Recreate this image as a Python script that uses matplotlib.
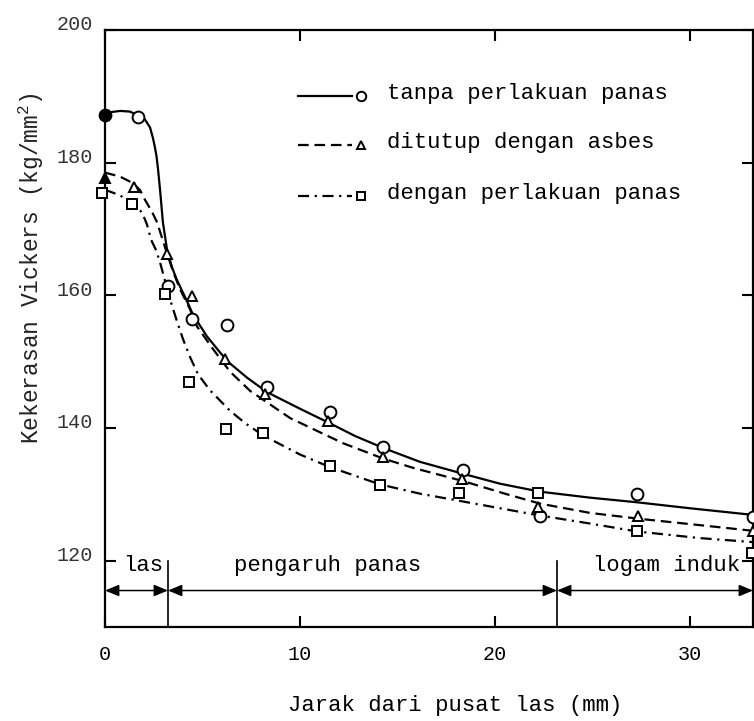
import matplotlib.pyplot as plt
import matplotlib as mpl
from matplotlib.transforms import ScaledTranslation

mpl.rcParams['font.family'] = ['Liberation Mono', 'DejaVu Sans Mono']
mpl.rcParams['mathtext.fontset'] = 'custom'
mpl.rcParams['mathtext.rm'] = 'Liberation Mono'
mpl.rcParams['mathtext.it'] = 'Liberation Mono'

# titik pengukuran: jarak dari pusat las (mm) dan kekerasan Vickers
jarak_tanpa = [0, 1.69, 3.23, 4.46, 6.26, 8.31, 11.54, 14.26, 18.36, 22.31, 27.28, 33.23]
hv_tanpa = [187.2, 186.9, 161.4, 156.4, 155.6, 146.2, 142.4, 137.1, 133.7, 126.8, 130.1, 126.6]

jarak_asbes = [0, 1.49, 3.18, 4.46, 6.15, 8.21, 11.44, 14.26, 18.31, 22.21, 27.33, 33.23]
hv_asbes = [177.7, 176.4, 166.2, 159.9, 150.4, 145.1, 141.1, 135.6, 132.3, 128.1, 126.8, 124.5]

jarak_panas = [-0.15, 1.38, 3.08, 4.31, 6.21, 8.10, 11.54, 14.10, 18.15, 22.21, 27.28, 33.18]
hv_panas = [175.5, 173.7, 160.2, 146.9, 139.8, 139.2, 134.3, 131.4, 130.2, 130.2, 124.5, 121.1]

# kurva pendekatan
kurva_tanpa_x = [0, 0.77, 1.28, 1.69, 2.05, 2.31, 2.46, 2.56, 2.64, 2.72, 2.82, 2.97, 3.18, 3.44,
                 3.69, 4.21, 4.51, 5.23, 6.26, 7.28, 8.31, 10.0, 11.54, 12.82, 14.26, 16.15,
                 18.36, 20.26, 22.31, 24.87, 27.28, 30.0, 33.23]
kurva_tanpa_y = [187.5, 187.8, 187.7, 187.1, 186.5, 185.3, 183.7, 182.3, 181.0, 179.0, 176.0,
                 171.0, 166.9, 164.2, 162.3, 159.1, 157.1, 153.8, 150.1, 147.6, 145.4, 142.9,
                 140.7, 138.8, 137.0, 134.9, 133.1, 131.6, 130.4, 129.5, 128.8, 127.9, 126.9]

kurva_asbes_x = [0, 0.77, 1.38, 1.79, 2.05, 2.41, 2.67, 2.92, 3.18, 3.49, 3.85, 4.36, 4.72, 5.54,
                 6.41, 7.44, 9.49, 12.21, 14.26, 15.79, 18.36, 20.62, 22.31, 24.87, 27.44,
                 30.36, 33.23]
kurva_asbes_y = [178.5, 177.9, 177.0, 175.9, 174.4, 172.6, 171.0, 168.7, 166.3, 163.6, 160.9,
                 157.9, 155.3, 151.9, 148.5, 145.6, 141.5, 137.7, 135.4, 134.0, 132.0, 130.0,
                 128.6, 127.2, 126.3, 125.4, 124.5]

kurva_panas_x = [0, 0.67, 1.18, 1.90, 2.15, 2.36, 2.62, 2.82, 3.03, 3.23, 3.44, 3.69, 4.0, 4.36,
                 4.77, 5.38, 6.41, 7.2, 8.10, 10.0, 11.54, 14.10, 16.15, 18.21, 22.31, 24.87,
                 27.28, 30.51, 33.23]
kurva_panas_y = [175.9, 175.2, 174.4, 172.5, 170.7, 168.4, 166.8, 165.0, 162.7, 160.5, 158.4,
                 156.1, 153.4, 150.7, 148.1, 145.7, 142.6, 140.7, 138.9, 136.0, 134.1, 131.5,
                 130.1, 129.0, 126.8, 125.6, 124.4, 123.4, 122.8]

label_seri = ['tanpa perlakuan panas', 'ditutup dengan asbes', 'dengan perlakuan panas']

# batas daerah: las | pengaruh panas | logam induk
batas_zona = [0, 3.23, 23.18, 33.23]
nama_zona = ['las', 'pengaruh panas', 'logam induk']

x_ticks = [0, 10, 20, 30]
y_ticks = [120, 140, 160, 180, 200]

fig = plt.figure(figsize=(7.54, 7.21), dpi=100)
ax = fig.add_axes([105 / 754, 1 - 627 / 721, 648 / 754, 597 / 721])

lw = 1.6
gaya = [
    dict(ls='-', marker='o', ms=8.5),
    dict(ls=(0, (4.8, 2.6)), marker='^', ms=7),
    dict(ls=(0, (5, 2.5, 1, 2.5)), marker='s', ms=6.5),
]
kurva = [(kurva_tanpa_x, kurva_tanpa_y), (kurva_asbes_x, kurva_asbes_y), (kurva_panas_x, kurva_panas_y)]
titik = [(jarak_tanpa, hv_tanpa), (jarak_asbes, hv_asbes), (jarak_panas, hv_panas)]
isi_awal = ['black', 'black', 'white']

for (kx, ky), (px, py), g, fc in zip(kurva, titik, gaya, isi_awal):
    ax.plot(kx, ky, color='black', lw=lw, ls=g['ls'], zorder=2)
    ax.plot(px[1:], py[1:], ls='none', marker=g['marker'], ms=g['ms'], mfc='white',
            mec='black', mew=1.4, clip_on=False, zorder=3)
    ax.plot(px[:1], py[:1], ls='none', marker=g['marker'], ms=g['ms'], mfc=fc,
            mec='black', mew=1.4, clip_on=False, zorder=4)

# legenda manual
leg_y = [0.889, 0.807, 0.722]
for nama, g, yy in zip(label_seri, gaya, leg_y):
    ax.plot([0.298, 0.381], [yy, yy], transform=ax.transAxes, color='black', lw=lw, ls=g['ls'])
    ax.plot([0.395], [yy], transform=ax.transAxes, ls='none', marker=g['marker'],
            ms=g['ms'] * 0.8, mfc='white', mec='black', mew=1.4)
    ax.text(0.435, yy - 0.005, nama, transform=ax.transAxes, fontsize=16, va='baseline')

# daerah las
y_panah = 115.5
for x in batas_zona[1:3]:
    ax.plot([x, x], [110, 120], color='black', lw=1.2)
for a, b in zip(batas_zona[:-1], batas_zona[1:]):
    ax.annotate('', xy=(b, y_panah), xytext=(a, y_panah),
                arrowprops=dict(arrowstyle='<|-|>,head_length=0.6,head_width=0.25',
                                color='black', lw=1.1, shrinkA=0, shrinkB=0,
                                mutation_scale=14), annotation_clip=False)
for nama, xt in zip(nama_zona, [1.95, 11.4, 28.8]):
    ax.text(xt, 118.5, nama, fontsize=16, ha='center', va='baseline')

ax.set_xlim(0, 33.23)
ax.set_ylim(110, 200)
ax.set_xticks(x_ticks)
ax.set_yticks(y_ticks)
ax.set_xticklabels([str(v) for v in x_ticks])
ax.set_yticklabels([str(v) for v in y_ticks], color='#333333')
ax.tick_params(direction='in', length=8, width=1.5, top=True, right=True, labelsize=14.5)
ax.tick_params(axis='y', pad=9)
ax.tick_params(axis='x', pad=13)
geser = ScaledTranslation(0, 0.07, fig.dpi_scale_trans)
for lab in ax.get_yticklabels():
    lab.set_transform(lab.get_transform() + geser)

for s in ax.spines.values():
    s.set_linewidth(1.6)

ax.text(-0.114, 0.601, 'Kekerasan Vickers (kg/mm$^{\\mathregular{2}}$)', transform=ax.transAxes,
        rotation=90, fontsize=16.5, ha='center', va='center', color='#222222')
ax.text(0.54, -0.132, 'Jarak dari pusat las (mm)', transform=ax.transAxes,
        fontsize=16, ha='center', va='center')

fig.savefig('out.png', dpi=100)
